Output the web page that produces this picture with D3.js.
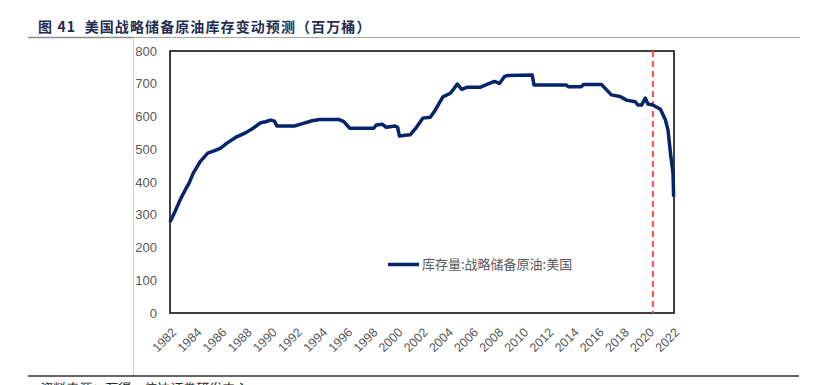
<!DOCTYPE html>
<html>
<head><meta charset="utf-8">
<title>美国战略储备原油库存</title>
<style>
body { margin:0; background:#fff; }
svg text { font-family: "Liberation Sans", "Noto Sans CJK SC", sans-serif; }
</style>
</head>
<body>
<svg width="821" height="385"></svg>
<script src="https://d3js.org/d3.v7.min.js"></script>
<script>
// year (decimal) and stock, million barrels
var years = [1982.0, 1982.4, 1982.8, 1983.2, 1983.5, 1983.85, 1984.4, 1985.0, 1985.5, 1986.0,
  1986.5, 1987.3, 1988.0, 1988.6, 1989.2, 1989.6, 1990.0, 1990.3, 1990.5, 1991.9,
  1992.6, 1993.3, 1993.9, 1995.4, 1995.8, 1996.3, 1998.2, 1998.4, 1998.9, 1999.2,
  1999.9, 2000.1, 2000.25, 2000.7, 2001.1, 2001.6, 2002.1, 2002.7, 2003.1, 2003.7,
  2004.3, 2004.85, 2005.2, 2005.6, 2006.65, 2007.4, 2007.8, 2008.2, 2008.6, 2008.8,
  2010.8, 2010.95, 2013.5, 2013.7, 2014.7, 2014.9, 2016.3, 2017.1, 2017.8, 2018.3,
  2019.0, 2019.2, 2019.5, 2019.8, 2020.0, 2020.4, 2021.0, 2021.4, 2021.6, 2021.8,
  2022.0, 2022.05];
var stock = [278, 310, 345, 375, 395, 427, 462, 488, 495, 503,
  518, 538, 550, 564, 581, 584, 589, 586, 571, 571,
  579, 587, 591, 591, 585, 564, 564, 574, 576, 567,
  571, 567, 540, 543, 544, 567, 595, 598, 620, 660,
  671, 699, 683, 689, 689, 701, 707, 701, 722, 725,
  727, 696, 696, 691, 691, 698, 698, 666, 661, 650,
  645, 635, 635, 656, 638, 635, 622, 589, 559, 488,
  427, 355];
var tickYears = d3.range(1982, 2023, 2);
var yTicks = [0, 100, 200, 300, 400, 500, 600, 700, 800];
var forecastStart = 2020.4;
var seriesName = "库存量:战略储备原油:美国";
var title = "图 41  美国战略储备原油库存变动预测（百万桶）";
var source = "资料来源：万得，信达证券研发中心";

var svg = d3.select("svg");
var pL = 170, pR = 674, pT = 51, pB = 313;

var x = d3.scaleLinear().domain([1982, 2022]).range([pL, 673]);
var y = d3.scaleLinear().domain([0, 800]).range([pB, pT]);

// header and page rules
svg.append("text").attr("x", 38).attr("y", 32)
  .attr("font-size", 14).attr("font-weight", "bold").attr("fill", "#1f2d50")
  .style("font-family", "'Noto Sans CJK SC', sans-serif")
  .style("letter-spacing", "1.1px").style("white-space", "pre")
  .text(title);
svg.append("line").attr("x1", 28).attr("x2", 133).attr("y1", 37.5).attr("y2", 37.5)
  .attr("stroke", "#8a8a8a").attr("stroke-width", 1.5);
svg.append("line").attr("x1", 133).attr("x2", 800).attr("y1", 37.5).attr("y2", 37.5)
  .attr("stroke", "#a6a6a6").attr("stroke-width", 1.2);
svg.append("line").attr("x1", 133.5).attr("x2", 133.5).attr("y1", 38).attr("y2", 376)
  .attr("stroke", "#d0d0d0").attr("stroke-width", 1);
svg.append("line").attr("x1", 28).attr("x2", 799).attr("y1", 376).attr("y2", 376)
  .attr("stroke", "#333").attr("stroke-width", 1.5);
svg.append("text").attr("x", 38).attr("y", 393)
  .attr("font-size", 13).attr("fill", "#222").attr("font-style", "italic")
  .style("font-family", "'Noto Sans CJK SC', sans-serif")
  .text(source);

// y labels
svg.selectAll(".ylab").data(yTicks).enter().append("text")
  .attr("x", 157).attr("y", function(d) { return y(d); })
  .attr("dy", "0.35em").attr("text-anchor", "end")
  .attr("font-size", 13).attr("fill", "#595959")
  .text(function(d) { return d; });

// x labels, rotated
svg.selectAll(".xlab").data(tickYears).enter().append("text")
  .attr("transform", function(d) { return "translate(" + (x(d) + 1) + "," + (pB + 14) + ") rotate(-45)"; })
  .attr("text-anchor", "end").attr("dy", "0.7em")
  .attr("font-size", 12.5).attr("fill", "#595959")
  .text(function(d) { return d; });

// frame
svg.append("rect").attr("x", pL).attr("y", pT)
  .attr("width", pR - pL).attr("height", pB - pT)
  .attr("fill", "none").attr("stroke", "#000").attr("stroke-width", 1.5);

// forecast marker
svg.append("line").attr("x1", x(forecastStart)).attr("x2", x(forecastStart))
  .attr("y1", pT).attr("y2", pB)
  .attr("stroke", "#ff4b4b").attr("stroke-width", 2).attr("stroke-dasharray", "6,4");

// series
var line = d3.line()
  .x(function(d, i) { return x(years[i]); })
  .y(function(d) { return y(d); });
svg.append("path").datum(stock)
  .attr("d", line).attr("fill", "none")
  .attr("stroke", "#06246a").attr("stroke-width", 3.5)
  .attr("stroke-linejoin", "round");

// legend
svg.append("line").attr("x1", 388).attr("x2", 419).attr("y1", 264.5).attr("y2", 264.5)
  .attr("stroke", "#06246a").attr("stroke-width", 3.5);
svg.append("text").attr("x", 422).attr("y", 264.5).attr("dy", "0.35em")
  .attr("font-size", 13).attr("fill", "#595959")
  .style("font-family", "'Noto Sans CJK SC', sans-serif")
  .text(seriesName);
</script>
</body>
</html>
